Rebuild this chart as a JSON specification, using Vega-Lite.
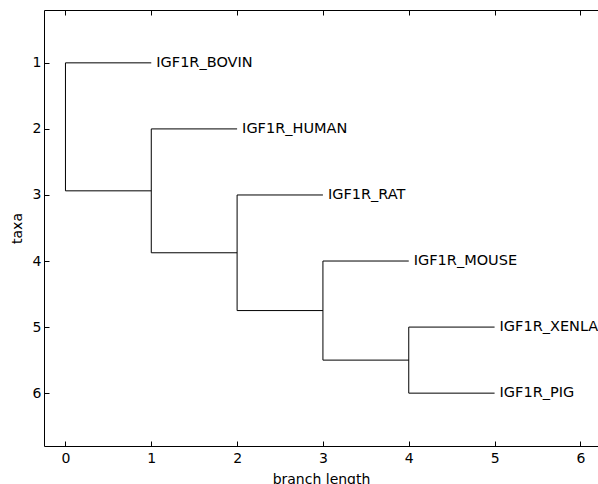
{
  "$schema": "https://vega.github.io/schema/vega-lite/v6.json",
  "autosize": "none",
  "width": 554,
  "height": 436,
  "padding": {"left": 44, "top": 10, "right": 0, "bottom": 38},
  "config": {
    "view": {"stroke": null},
    "font": "DejaVu Sans",
    "axis": {
      "grid": false,
      "domainColor": "black",
      "tickColor": "black",
      "labelColor": "black",
      "titleColor": "black",
      "labelFont": "DejaVu Sans",
      "titleFont": "DejaVu Sans",
      "labelFontSize": 14,
      "titleFontSize": 14,
      "titleFontWeight": "normal",
      "tickSize": -5,
      "domainWidth": 1,
      "tickWidth": 1
    }
  },
  "datasets": {
    "edges": [
      {"x": 0, "x2": 1, "y": 1, "y2": 1},
      {"x": 0, "x2": 1, "y": 2.9375, "y2": 2.9375},
      {"x": 1, "x2": 2, "y": 2, "y2": 2},
      {"x": 1, "x2": 2, "y": 3.875, "y2": 3.875},
      {"x": 2, "x2": 3, "y": 3, "y2": 3},
      {"x": 2, "x2": 3, "y": 4.75, "y2": 4.75},
      {"x": 3, "x2": 4, "y": 4, "y2": 4},
      {"x": 3, "x2": 4, "y": 5.5, "y2": 5.5},
      {"x": 4, "x2": 5, "y": 5, "y2": 5},
      {"x": 4, "x2": 5, "y": 6, "y2": 6},
      {"x": 0, "x2": 0, "y": 1, "y2": 2.9375},
      {"x": 1, "x2": 1, "y": 2, "y2": 3.875},
      {"x": 2, "x2": 2, "y": 3, "y2": 4.75},
      {"x": 3, "x2": 3, "y": 4, "y2": 5.5},
      {"x": 4, "x2": 4, "y": 5, "y2": 6}
    ],
    "leaves": [
      {"x": 1, "y": 1, "name": "IGF1R_BOVIN"},
      {"x": 2, "y": 2, "name": "IGF1R_HUMAN"},
      {"x": 3, "y": 3, "name": "IGF1R_RAT"},
      {"x": 4, "y": 4, "name": "IGF1R_MOUSE"},
      {"x": 5, "y": 5, "name": "IGF1R_XENLA"},
      {"x": 5, "y": 6, "name": "IGF1R_PIG"}
    ]
  },
  "layer": [
    {
      "data": {"name": "edges"},
      "mark": {"type": "rule", "color": "black", "strokeWidth": 1},
      "encoding": {
        "x": {"field": "x", "type": "quantitative", "scale": {"domain": [-0.25, 6.205], "nice": false, "zero": false},
              "axis": {"orient": "bottom", "title": "branch length", "values": [0,1,2,3,4,5,6], "labelPadding": 10, "titlePadding": 7}},
        "x2": {"field": "x2"},
        "y": {"field": "y", "type": "quantitative", "scale": {"domain": [0.2, 6.8], "reverse": true, "nice": false, "zero": false},
              "axis": {"orient": "left", "title": "taxa", "values": [1,2,3,4,5,6], "labelPadding": 8, "titlePadding": 8}},
        "y2": {"field": "y2"}
      }
    },
    {
      "data": {"name": "leaves"},
      "mark": {"type": "text", "align": "left", "baseline": "middle", "dx": 5, "font": "DejaVu Sans", "fontSize": 14.5, "color": "black"},
      "encoding": {
        "x": {"field": "x", "type": "quantitative",
              "axis": {"orient": "top", "title": null, "labels": false, "values": [0,1,2,3,4,5,6]}},
        "y": {"field": "y", "type": "quantitative", "axis": null},
        "text": {"field": "name"}
      }
    }
  ],
  "resolve": {"axis": {"x": "independent", "y": "independent"}}
}
